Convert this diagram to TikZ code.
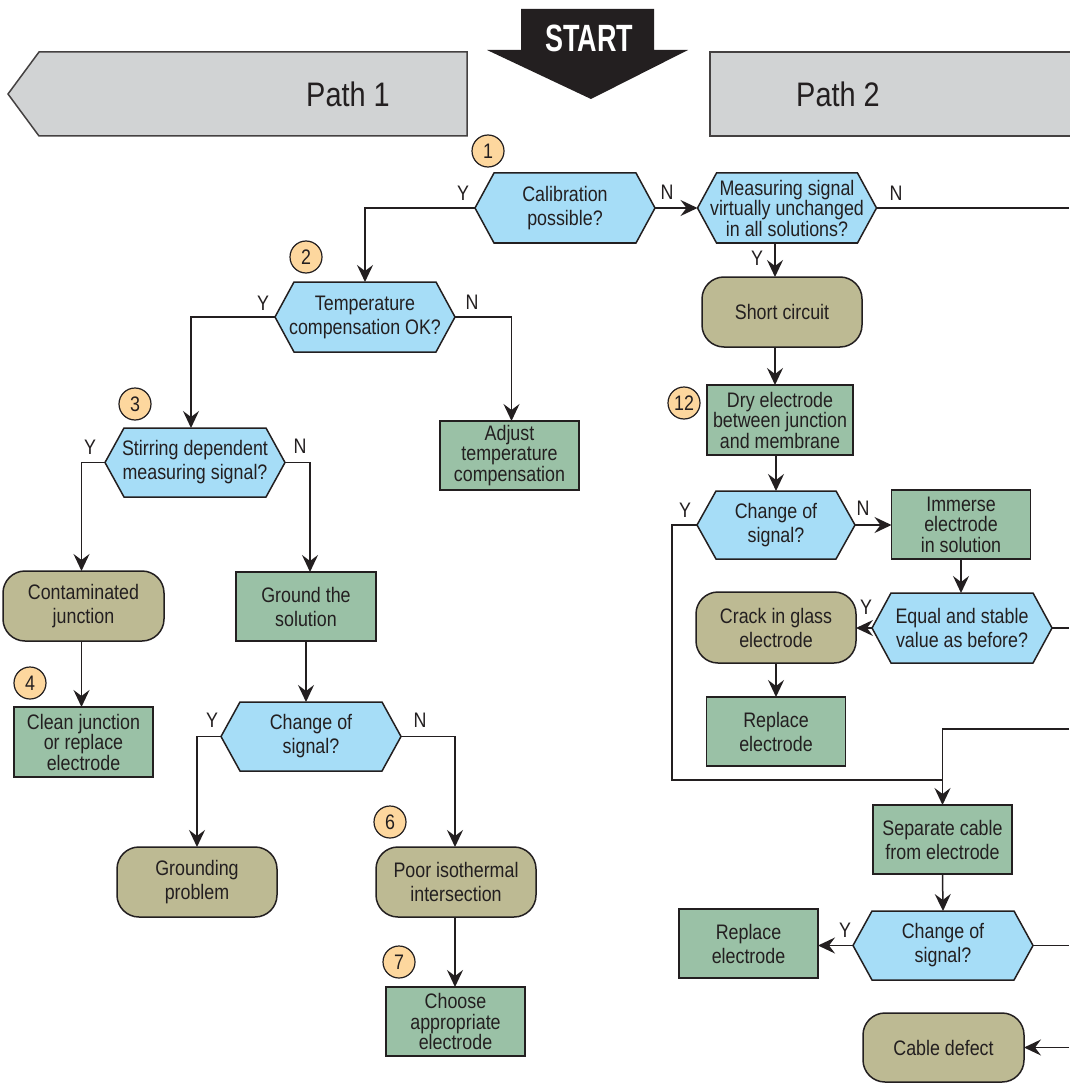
\documentclass[tikz,border=0pt]{standalone}
\usepackage{fontspec}
\setmainfont[FakeStretch=0.85]{Liberation Sans}
\newfontfamily\startfont[FakeStretch=0.71]{Liberation Sans}
\usetikzlibrary{arrows.meta,calc}
\pgfdeclarelayer{bg}
\pgfsetlayers{bg,main}
\definecolor{ink}{HTML}{231F20}
\definecolor{decblue}{HTML}{A6DDF7}
\definecolor{boxgreen}{HTML}{9AC1A6}
\definecolor{termkhaki}{HTML}{BDBA93}
\definecolor{numorange}{HTML}{FDD79E}
\definecolor{bannergrey}{HTML}{D1D3D4}
\newcommand\hexbg[1]{\begin{pgfonlayer}{bg}\filldraw[fill=decblue,draw=ink,line width=1.5pt,line join=miter]
 (#1.west) -- ([xshift=19pt]#1.north west) -- ([xshift=-19pt]#1.north east) -- (#1.east)
 -- ([xshift=-19pt]#1.south east) -- ([xshift=19pt]#1.south west) -- cycle;\end{pgfonlayer}}
\tikzset{
 base/.style={rectangle, inner sep=0pt, outer sep=0pt, align=center},
 box/.style={base, draw=ink, line width=1.5pt, fill=boxgreen, minimum width=139pt, minimum height=69pt},
 term/.style={base, draw=ink, line width=1.5pt, rounded corners=22pt, fill=termkhaki, minimum width=160pt, minimum height=70pt},
 dec/.style={base, minimum width=180pt, minimum height=70pt},
 tight/.style={font=\fontsize{21}{20.5}\selectfont},
 num/.style={circle, draw=ink, line width=1.2pt, fill=numorange, minimum size=32pt, inner sep=0pt, font=\fontsize{21}{21}\selectfont},
 lab/.style={inner sep=0pt},
 ln/.style={draw=ink, line width=1.5pt},
 arr/.style={ln, -{Stealth[length=17pt,width=16pt,inset=6pt]}},
}
\begin{document}
\begin{tikzpicture}[x=1pt,y=-1pt,font=\fontsize{21}{24}\selectfont,text=ink]
\useasboundingbox (0,0) rectangle (1069,1083);
\begin{pgfonlayer}{bg}
\fill[white] (0,0) rectangle (1069,1083);
\end{pgfonlayer}

% banners and start
\filldraw[fill=bannergrey, draw=ink!85, line width=1.5pt] (8,94) -- (39,52) -- (467,52) -- (467,136) -- (39,136) -- cycle;
\node[lab, font=\fontsize{34}{34}\selectfont] (p1) at (348,94) {Path 1};
\filldraw[fill=bannergrey, draw=ink!85, line width=1.5pt] (1080,52) -- (710,52) -- (710,136) -- (1080,136);
\node[lab, font=\fontsize{34}{34}\selectfont] (p2) at (838,94) {Path 2};
\fill[ink] (521,9) -- (654,9) -- (654,50) -- (688,50) -- (591,99) -- (487,50) -- (521,50) -- cycle;
\node[lab, text=white, font=\startfont\bfseries\fontsize{38}{38}\selectfont] (start) at (589,38) {START};

% ---------- nodes ----------
\node[dec] (d1) at (565,208) {Calibration\\possible?}; \hexbg{d1}
\node[dec, tight, minimum width=179pt] (d2) at (787,208) {Measuring signal\\virtually unchanged\\in all solutions?}; \hexbg{d2}
\node[term] (sc) at (782,312) {Short circuit};
\node[box, tight, minimum width=146pt, minimum height=70pt] (dry) at (780,420) {Dry electrode\\between junction\\and membrane};
\node[dec, minimum width=158pt, minimum height=68pt] (d3) at (776,525) {Change of\\signal?}; \hexbg{d3}
\node[box, tight] (imm) at (961,524.5) {Immerse\\electrode\\in solution};
\node[dec] (d4) at (962,628) {Equal and stable\\value as before?}; \hexbg{d4}
\node[term, minimum height=71pt] (crack) at (776,627.5) {Crack in glass\\electrode};
\node[box] (rep1) at (776,731.5) {Replace\\electrode};
\node[box] (sep) at (942.5,839.5) {Separate cable\\from electrode};
\node[dec, minimum height=69pt] (d5) at (943,945.5) {Change of\\signal?}; \hexbg{d5}
\node[box] (rep2) at (748.5,943.5) {Replace\\electrode};
\node[term, minimum width=161pt, minimum height=69pt] (cable) at (943.5,1047.5) {Cable defect};

\node[dec] (d6) at (365,317) {Temperature\\compensation OK?}; \hexbg{d6}
\node[box, tight] (adj) at (509.5,455.5) {Adjust\\temperature\\compensation};
\node[dec, minimum height=69pt] (d7) at (195,462.5) {Stirring dependent\\measuring signal?}; \hexbg{d7}
\node[term, minimum width=161pt] (cont) at (83.5,606) {Contaminated\\junction};
\node[box, tight, minimum height=70pt] (clean) at (83.5,742) {Clean junction\\or replace\\electrode};
\node[box, minimum width=140pt] (gnd) at (306,606.5) {Ground the\\solution};
\node[dec, minimum height=69pt] (d8) at (311,736.5) {Change of\\signal?}; \hexbg{d8}
\node[term] (grp) at (197,882) {Grounding\\problem};
\node[term] (poor) at (456,882) {Poor isothermal\\intersection};
\node[box, tight] (choose) at (455.5,1021.5) {Choose\\appropriate\\electrode};

% numbers
\node[num] (n1) at (488,151) {1};
\node[num] (n2) at (306,257) {2};
\node[num] (n3) at (135,404) {3};
\node[num] (n4) at (30,683) {4};
\node[num] (n6) at (390,822) {6};
\node[num] (n7) at (399,962) {7};
\node[num] (n12) at (684,403) {12};

% labels
\node[lab] (y1) at (463,193) {Y};
\node[lab] (no1) at (667,192) {N};
\node[lab] (no2) at (896,193) {N};
\node[lab] (y2) at (757,258) {Y};
\node[lab] (y6) at (263,303) {Y};
\node[lab] (no6) at (472,302) {N};
\node[lab] (y7) at (90,447) {Y};
\node[lab] (no7) at (300,446) {N};
\node[lab] (y8) at (212,720) {Y};
\node[lab] (no8) at (420,720) {N};
\node[lab] (y3) at (685,510) {Y};
\node[lab] (no3) at (863,508) {N};
\node[lab] (y4) at (866,607) {Y};
\node[lab] (y5) at (845,930) {Y};

% free ends at right edge
\coordinate (e2) at (1069,208);
\coordinate (e4) at (1069,729);
\coordinate (e4b) at (1069,628);
\coordinate (e5) at (1069,945.5);
\coordinate (e6) at (1069,1047.5);
\coordinate (jn) at (942.5,780);

% ---------- connectors ----------
\draw[arr] (d1.east) -- (d2.west);
\draw[ln] (d2.east) -- (e2);
\draw[arr] ([xshift=-12pt]d2.south) -- ([xshift=-12pt]d2.south |- sc.north);
\draw[arr] ([xshift=-7pt]sc.south) -- ([xshift=-7pt]sc.south |- dry.north);
\draw[arr] (dry.south -| d3.north) -- (d3.north);
\draw[arr] (d3.east) -- (imm.west |- d3.east);
\draw[arr] (imm.south) -- (imm.south |- d4.north);
\draw[arr] (d4.west) -- (crack.east |- d4.west);
\draw[ln] (d4.east) -- (e4b);
\draw[arr] (crack.south) -- (rep1.north);
\draw[ln] (d3.west) -- ++(-25,0) |- (jn);
\draw[arr] (e4) -| (sep.north);
\draw[arr] (sep.south) -- (d5.north);
\draw[arr] (d5.west) -- (rep2.east |- d5.west);
\draw[ln] (d5.east) -- (e5);
\draw[arr] (e6) -- (cable.east);

\draw[arr] (d1.west) -| (d6.north);
\draw[arr] (d6.east) -| ([xshift=2pt]adj.north);
\draw[arr] (d6.west) -| ([xshift=-4pt]d7.north);
\draw[arr] (d7.west) -| ([xshift=-2pt]cont.north);
\draw[arr] (d7.east) -| ([xshift=4pt]gnd.north);
\draw[arr] ([xshift=-2pt]cont.south) -- ([xshift=-2pt]clean.north);
\draw[arr] (gnd.south) -- (gnd.south |- d8.north);
\draw[arr] (d8.west) -| (grp.north);
\draw[arr] (d8.east) -| ([xshift=-1pt]poor.north);
\draw[arr] ([xshift=-1pt]poor.south) -- ([xshift=-1pt]poor.south |- choose.north);
\end{tikzpicture}
\end{document}
